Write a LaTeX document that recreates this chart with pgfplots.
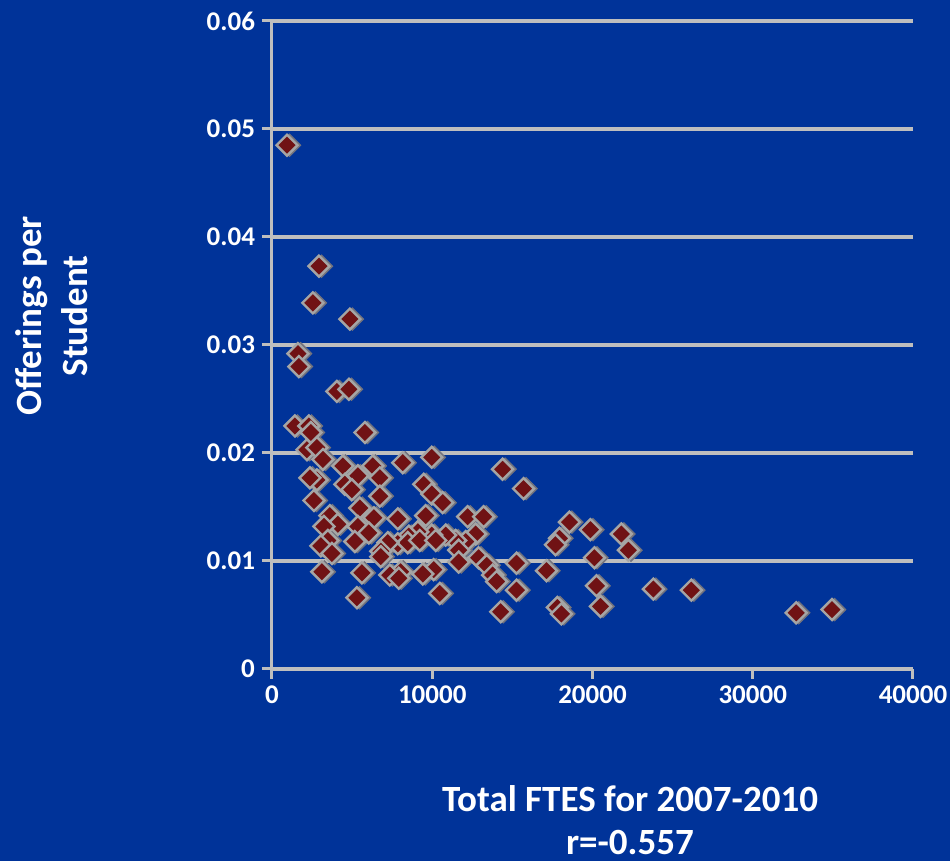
\documentclass[border=0pt]{standalone}
\usepackage{fontspec}
\setmainfont{Carlito}
\usepackage{pgfplots}
\usepackage{pgfplotstable}
\pgfplotsset{compat=1.18}
\definecolor{bg}{RGB}{0,51,153}
\definecolor{gridgray}{RGB}{190,190,190}
\definecolor{mkred}{RGB}{112,18,20}
\definecolor{mkedge}{RGB}{165,165,165}
\definecolor{mkshadow}{RGB}{115,115,125}

% FTES vs offerings per student
\pgfplotstableread{
x y
935 0.0485
2930 0.0373
2550 0.0339
4860 0.0324
1620 0.0292
1680 0.0280
4050 0.0257
4800 0.0259
5800 0.0219
1430 0.0225
2300 0.0225
2430 0.0219
2180 0.0203
2800 0.0205
3180 0.0194
9970 0.0196
8160 0.0191
6290 0.0188
4420 0.0188
14390 0.0185
5360 0.0179
4550 0.0171
2800 0.0175
2370 0.0177
6730 0.0177
15700 0.0167
9470 0.0171
4980 0.0166
6730 0.0160
9970 0.0162
10650 0.0154
2620 0.0156
5480 0.0149
6360 0.0140
3610 0.0142
7850 0.0139
9590 0.0142
12210 0.0141
13210 0.0141
18560 0.0136
4110 0.0134
5360 0.0132
19870 0.0129
21800 0.0125
3240 0.0132
6040 0.0126
17940 0.0121
17690 0.0115
12710 0.0125
12090 0.0118
11460 0.0119
10840 0.0124
9970 0.0124
9100 0.0127
8540 0.0123
7850 0.0116
8470 0.0117
7230 0.0117
9220 0.0119
10220 0.0119
5170 0.0118
3490 0.0119
3050 0.0114
6790 0.0109
3740 0.0107
11650 0.0110
6790 0.0104
12890 0.0103
20120 0.0103
22240 0.0110
11650 0.0099
13400 0.0096
15260 0.0098
17130 0.0091
10090 0.0092
9410 0.0088
8030 0.0090
7350 0.0087
5610 0.0089
3110 0.0090
13770 0.0087
14020 0.0081
7910 0.0084
20250 0.0077
15260 0.0073
10470 0.0070
23800 0.0074
26170 0.0073
5300 0.0066
14270 0.0053
17810 0.0057
18060 0.0051
20500 0.0058
32710 0.0052
34950 0.0055
}\ftes

\begin{document}
\begin{tikzpicture}
\fill[bg] (0,0) rectangle (475pt,430.5pt);
\useasboundingbox (0,0) rectangle (475pt,430.5pt);
\begin{axis}[
    at={(136pt,96pt)}, anchor=south west,
    scale only axis, width=320.5pt, height=324pt,
    xmin=0, xmax=40000, ymin=0, ymax=0.06,
    xtick={0,10000,20000,30000,40000},
    ytick={0,0.01,0.02,0.03,0.04,0.05,0.06},
    scaled x ticks=false, scaled y ticks=false,
    xticklabel style={/pgf/number format/1000 sep={}},
    yticklabel style={/pgf/number format/fixed, /pgf/number format/precision=2},
    /pgf/number format/assume math mode=true,
    ticklabel style={white, font=\fontsize{13.5}{13.5}\selectfont\bfseries},
    axis lines=left, axis line style={-, gridgray, line width=1.5pt},
    tick style={gridgray, line width=1.5pt},
    tick align=outside, major tick length=5pt,
    ymajorgrids, grid style={gridgray, line width=2pt},
    clip=false,
]
\addplot[only marks, mark=square*, mark size=4pt,
    mark options={rotate=45, fill=mkshadow, draw=mkshadow, xshift=0.9pt, yshift=-0.9pt}]
  table {\ftes};
\addplot[only marks, mark=square*, mark size=3.7pt,
    mark options={rotate=45, fill=mkred, draw=mkedge, line width=1.2pt}]
  table {\ftes};
\end{axis}
\node[white, font=\fontsize{18.5}{21.5}\selectfont\bfseries, align=center]
  at (315pt,20.5pt) {Total FTES for 2007-2010\\r=-0.557};
\node[white, font=\fontsize{18.5}{23}\selectfont\bfseries, align=center, rotate=90]
  at (26pt,272.5pt) {Offerings per\\Student};
\end{tikzpicture}
\end{document}
